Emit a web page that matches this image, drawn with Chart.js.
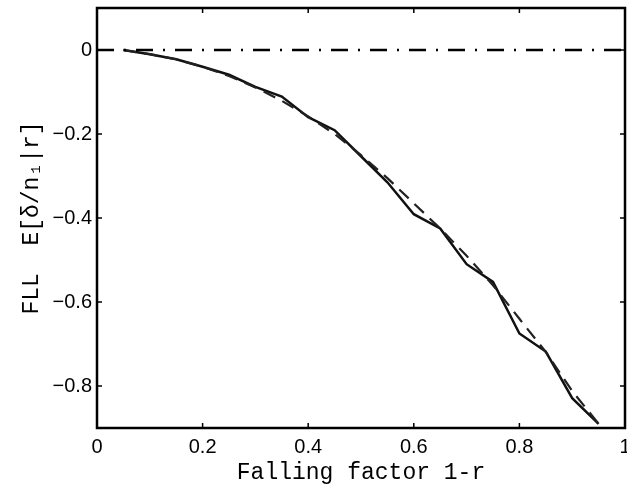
<!DOCTYPE html>
<html>
<head>
<meta charset="UTF-8">
<title>FLL</title>
<script src="https://cdn.jsdelivr.net/npm/chart.js"></script>
<style>body{margin:0;background:#fff}</style>
</head>
<body>
<canvas id="myChart" width="627" height="488"></canvas>
<script>
// falling factor 1-r
var xVals = [0.05, 0.1, 0.15, 0.2, 0.25, 0.3, 0.35, 0.4, 0.45, 0.5, 0.55, 0.6, 0.65, 0.7, 0.75, 0.8, 0.85, 0.9, 0.95];
// solid: simulated
var solid = [0.0, -0.01, -0.022, -0.04, -0.059, -0.088, -0.111, -0.16, -0.191, -0.253, -0.315, -0.391, -0.425, -0.51, -0.552, -0.675, -0.718, -0.829, -0.89];
// dashed: fitted
var dashed = [0.0, -0.01, -0.022, -0.04, -0.062, -0.089, -0.121, -0.158, -0.2, -0.25, -0.305, -0.365, -0.425, -0.49, -0.56, -0.64, -0.719, -0.812, -0.89];
// zero reference
var zeroX = [0, 1];
var zeroY = [0, 0];

var xTicks = [0, 0.2, 0.4, 0.6, 0.8, 1];
var yTicks = [-0.8, -0.6, -0.4, -0.2, 0];

function pts(xs, ys) {
    var out = [];
    for (let i = 0; i < xs.length; i++) out.push({x: xs[i], y: ys[i]});
    return out;
}

function fmt(v) {
    var s = String(Math.round(v * 10) / 10);
    return s.replace('-', '\u2212');
}

// frame and inward ticks, matlab style
var boxPlugin = {
    id: 'box',
    afterDatasetsDraw(chart) {
        var c = chart.ctx, a = chart.chartArea;
        var xs = chart.scales.x, ys = chart.scales.y;
        c.save();
        c.strokeStyle = '#000';
        c.lineWidth = 1.5;
        c.beginPath();
        xTicks.forEach(function(v) {
            var px = xs.getPixelForValue(v);
            c.moveTo(px, a.bottom); c.lineTo(px, a.bottom - 5);
            c.moveTo(px, a.top); c.lineTo(px, a.top + 5);
        });
        yTicks.forEach(function(v) {
            var py = ys.getPixelForValue(v);
            c.moveTo(a.left, py); c.lineTo(a.left + 5, py);
            c.moveTo(a.right, py); c.lineTo(a.right - 5, py);
        });
        c.stroke();
        c.lineWidth = 2.5;
        c.strokeRect(a.left, a.top, a.right - a.left, a.bottom - a.top);
        c.restore();
    }
};

var ctx = document.getElementById('myChart').getContext('2d');
new Chart(ctx, {
    type: 'scatter',
    data: {
        datasets: [
            {data: pts(zeroX, zeroY), showLine: true, borderColor: '#000', borderWidth: 2.5, borderDash: [17, 10, 2, 10], pointRadius: 0},
            {data: pts(xVals, dashed), showLine: true, borderColor: '#222', borderWidth: 2.2, borderDash: [13, 8], pointRadius: 0},
            {data: pts(xVals, solid), showLine: true, borderColor: '#111', borderWidth: 2.5, pointRadius: 0}
        ]
    },
    options: {
        responsive: false,
        animation: false,
        layout: {padding: {top: 8, right: 2, left: 0, bottom: 0}},
        plugins: {legend: {display: false}, tooltip: {enabled: false}},
        scales: {
            x: {
                type: 'linear', min: 0, max: 1,
                grid: {display: false, drawTicks: false},
                border: {display: false},
                afterBuildTicks: function(s) { s.ticks = xTicks.map(function(v) { return {value: v}; }); },
                afterFit: function(s) { s.height = 60; s.paddingLeft = 0; s.paddingRight = 0; },
                ticks: {color: '#000', padding: 7, maxRotation: 0, font: {family: 'Liberation Sans', size: 20}, callback: fmt},
                title: {display: true, text: 'Falling factor 1-r', color: '#000', padding: {top: 0, bottom: 1}, font: {family: 'Liberation Mono', size: 23}}
            },
            y: {
                type: 'linear', min: -0.9, max: 0.1,
                grid: {display: false, drawTicks: false},
                border: {display: false},
                afterBuildTicks: function(s) { s.ticks = yTicks.map(function(v) { return {value: v}; }); },
                afterFit: function(s) { s.width = 97; s.paddingTop = 0; s.paddingBottom = 0; },
                ticks: {color: '#000', padding: 5, font: {family: 'Liberation Sans', size: 20}, callback: fmt},
                title: {display: true, text: 'FLL  E[\u03b4/n\u2081|r]', color: '#000', padding: {top: 18, bottom: 0}, font: {family: 'Liberation Mono', size: 23}}
            }
        }
    },
    plugins: [boxPlugin]
});
</script>
</body>
</html>
